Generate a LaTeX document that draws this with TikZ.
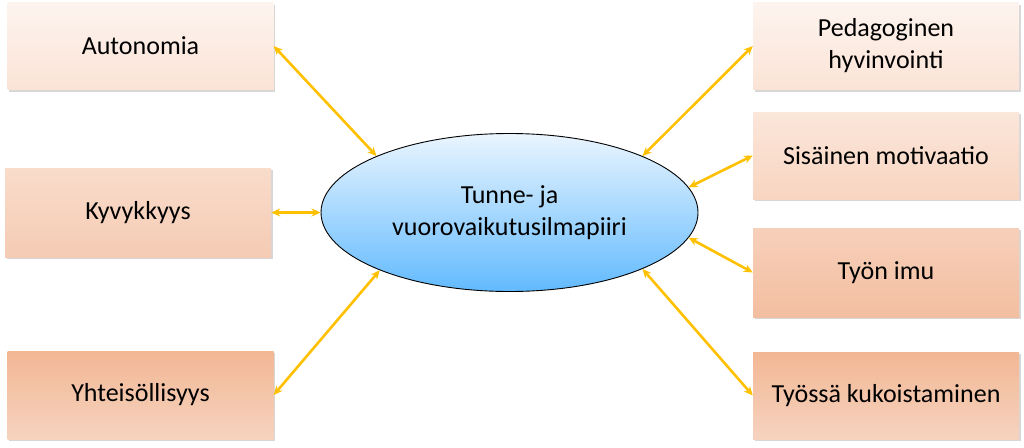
\documentclass[tikz,border=0pt]{standalone}
\usepackage{fontspec}
\setmainfont{Carlito}
\usetikzlibrary{shapes.geometric,shadows,arrows.meta}
\definecolor{arr}{HTML}{FFC000}
\definecolor{ellT}{HTML}{EAF5FE}
\definecolor{ellB}{HTML}{62BAFE}
\definecolor{aT}{HTML}{FDF4EF}\definecolor{aB}{HTML}{FBE3D6}
\definecolor{bT}{HTML}{F9DCCB}\definecolor{bB}{HTML}{F5CBB3}
\definecolor{cT}{HTML}{F2B794}\definecolor{cB}{HTML}{F6D3BF}
\definecolor{sT}{HTML}{FBE6DA}\definecolor{sB}{HTML}{F8D5C1}
\definecolor{tT}{HTML}{F7D0BA}\definecolor{tB}{HTML}{F3BEA0}
\tikzset{
  x=1pt,y=-1pt,
  box/.style={rectangle, inner sep=0pt, minimum width=266pt, minimum height=87pt,
    align=center, font=\fontsize{26}{32}\selectfont,
    drop shadow={shadow xshift=1.5pt, shadow yshift=-2pt, opacity=0.22, fill=black!70}},
  link/.style={draw=arr, line width=2.6pt, {Stealth[length=9pt,width=8pt]}-{Stealth[length=9pt,width=8pt]}},
}
\begin{document}
\begin{tikzpicture}
\useasboundingbox (0,0) rectangle (1024,447);
\fill[white] (0,0) rectangle (1024,447);
\node[box, top color=aT, bottom color=aB] (auto) at (140.5,46) {Autonomia};
\node[box, top color=bT, bottom color=bB, minimum height=89pt] (kyv) at (138,212.5) {Kyvykkyys};
\node[box, top color=cT, bottom color=cB, minimum height=88pt] (yht) at (140.5,395) {Yhteisöllisyys};
\node[box, top color=aT, bottom color=aB] (ped) at (886,46) {Pedagoginen\\hyvinvointi};
\node[box, top color=sT, bottom color=sB] (sis) at (886,155.5) {Sisäinen motivaatio};
\node[box, top color=tT, bottom color=tB, minimum height=89pt] (imu) at (886,272.5) {Työn imu};
\node[box, top color=cT, bottom color=cB] (kuk) at (886,395.5) {Työssä kukoistaminen};
\node[ellipse, draw=black, line width=0.9pt, inner sep=0pt, minimum width=377pt, minimum height=158pt,
  top color=ellT, bottom color=ellB, align=center, font=\fontsize{26}{32}\selectfont] (ell) at (509.5,212.5)
  {Tunne- ja\\vuorovaikutusilmapiiri};
\draw[link] (auto.east) -- (ell.157);
\draw[link] (kyv.east) -- (ell.west);
\draw[link] (yht.east) -- (ell.204);
\draw[link] (ped.west) -- (ell.23);
\draw[link] (sis.west) -- (ell.8);
\draw[link] (imu.west) -- (ell.-8.7);
\draw[link] (kuk.west) -- (ell.-23.7);
\end{tikzpicture}
\end{document}
